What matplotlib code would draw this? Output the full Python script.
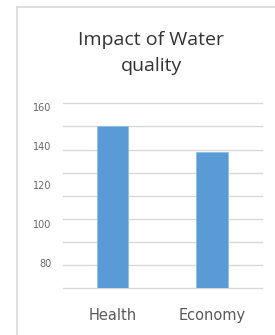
import numpy as np
import matplotlib.pyplot as plt
from matplotlib.lines import Line2D

# data
categories = ['Health', 'Economy']
values = [150, 137]
ytick_values = [80, 100, 120, 140, 160]
title_lines = ['Impact of Water', 'quality']

fig = plt.figure(figsize=(2.75, 3.35), dpi=100)
fig.patch.set_facecolor('white')

# chart border (top and left only visible)
fig.add_artist(Line2D([17 / 275, 17 / 275], [0, 1 - 7 / 335], transform=fig.transFigure,
                      color='#d9d9d9', lw=1.2))
fig.add_artist(Line2D([17 / 275, 1], [1 - 7 / 335, 1 - 7 / 335], transform=fig.transFigure,
                      color='#d9d9d9', lw=1.2))

ax = fig.add_axes([0.228, 0.1394, 0.7236, 0.5522])
ymin, ymax = 66.9, 161.9
x = np.arange(len(categories))
ax.bar(x, values, width=0.317, color='#5b9bd5', edgecolor='#8fbde6', linewidth=0.6, zorder=3)
ax.set_xlim(-0.5, len(categories) - 0.5)
ax.set_ylim(ymin, ymax)

# horizontal gridlines
for g in np.linspace(ymin, ymax, 9):
    ax.axhline(g, color='#d9d9d9', lw=1, zorder=1, clip_on=False)

ax.set_yticks(ytick_values)
ax.set_yticklabels([str(v) for v in ytick_values], fontsize=7, color='#666666')
ax.set_xticks(x)
ax.set_xticklabels(categories, fontsize=10.5, color='#595959')
ax.tick_params(axis='y', length=0, pad=8)
ax.tick_params(axis='x', length=0, pad=14.5)
for s in ax.spines.values():
    s.set_visible(False)

# title, two lines
fig.text(151 / 275, 1 - 40 / 335, title_lines[0], ha='center', va='center', fontsize=14,
         family='Open Sans', color='#333333')
fig.text(151 / 275, 1 - 66 / 335, title_lines[1], ha='center', va='center', fontsize=14,
         family='Open Sans', color='#333333')

plt.savefig('out.png', dpi=100)
